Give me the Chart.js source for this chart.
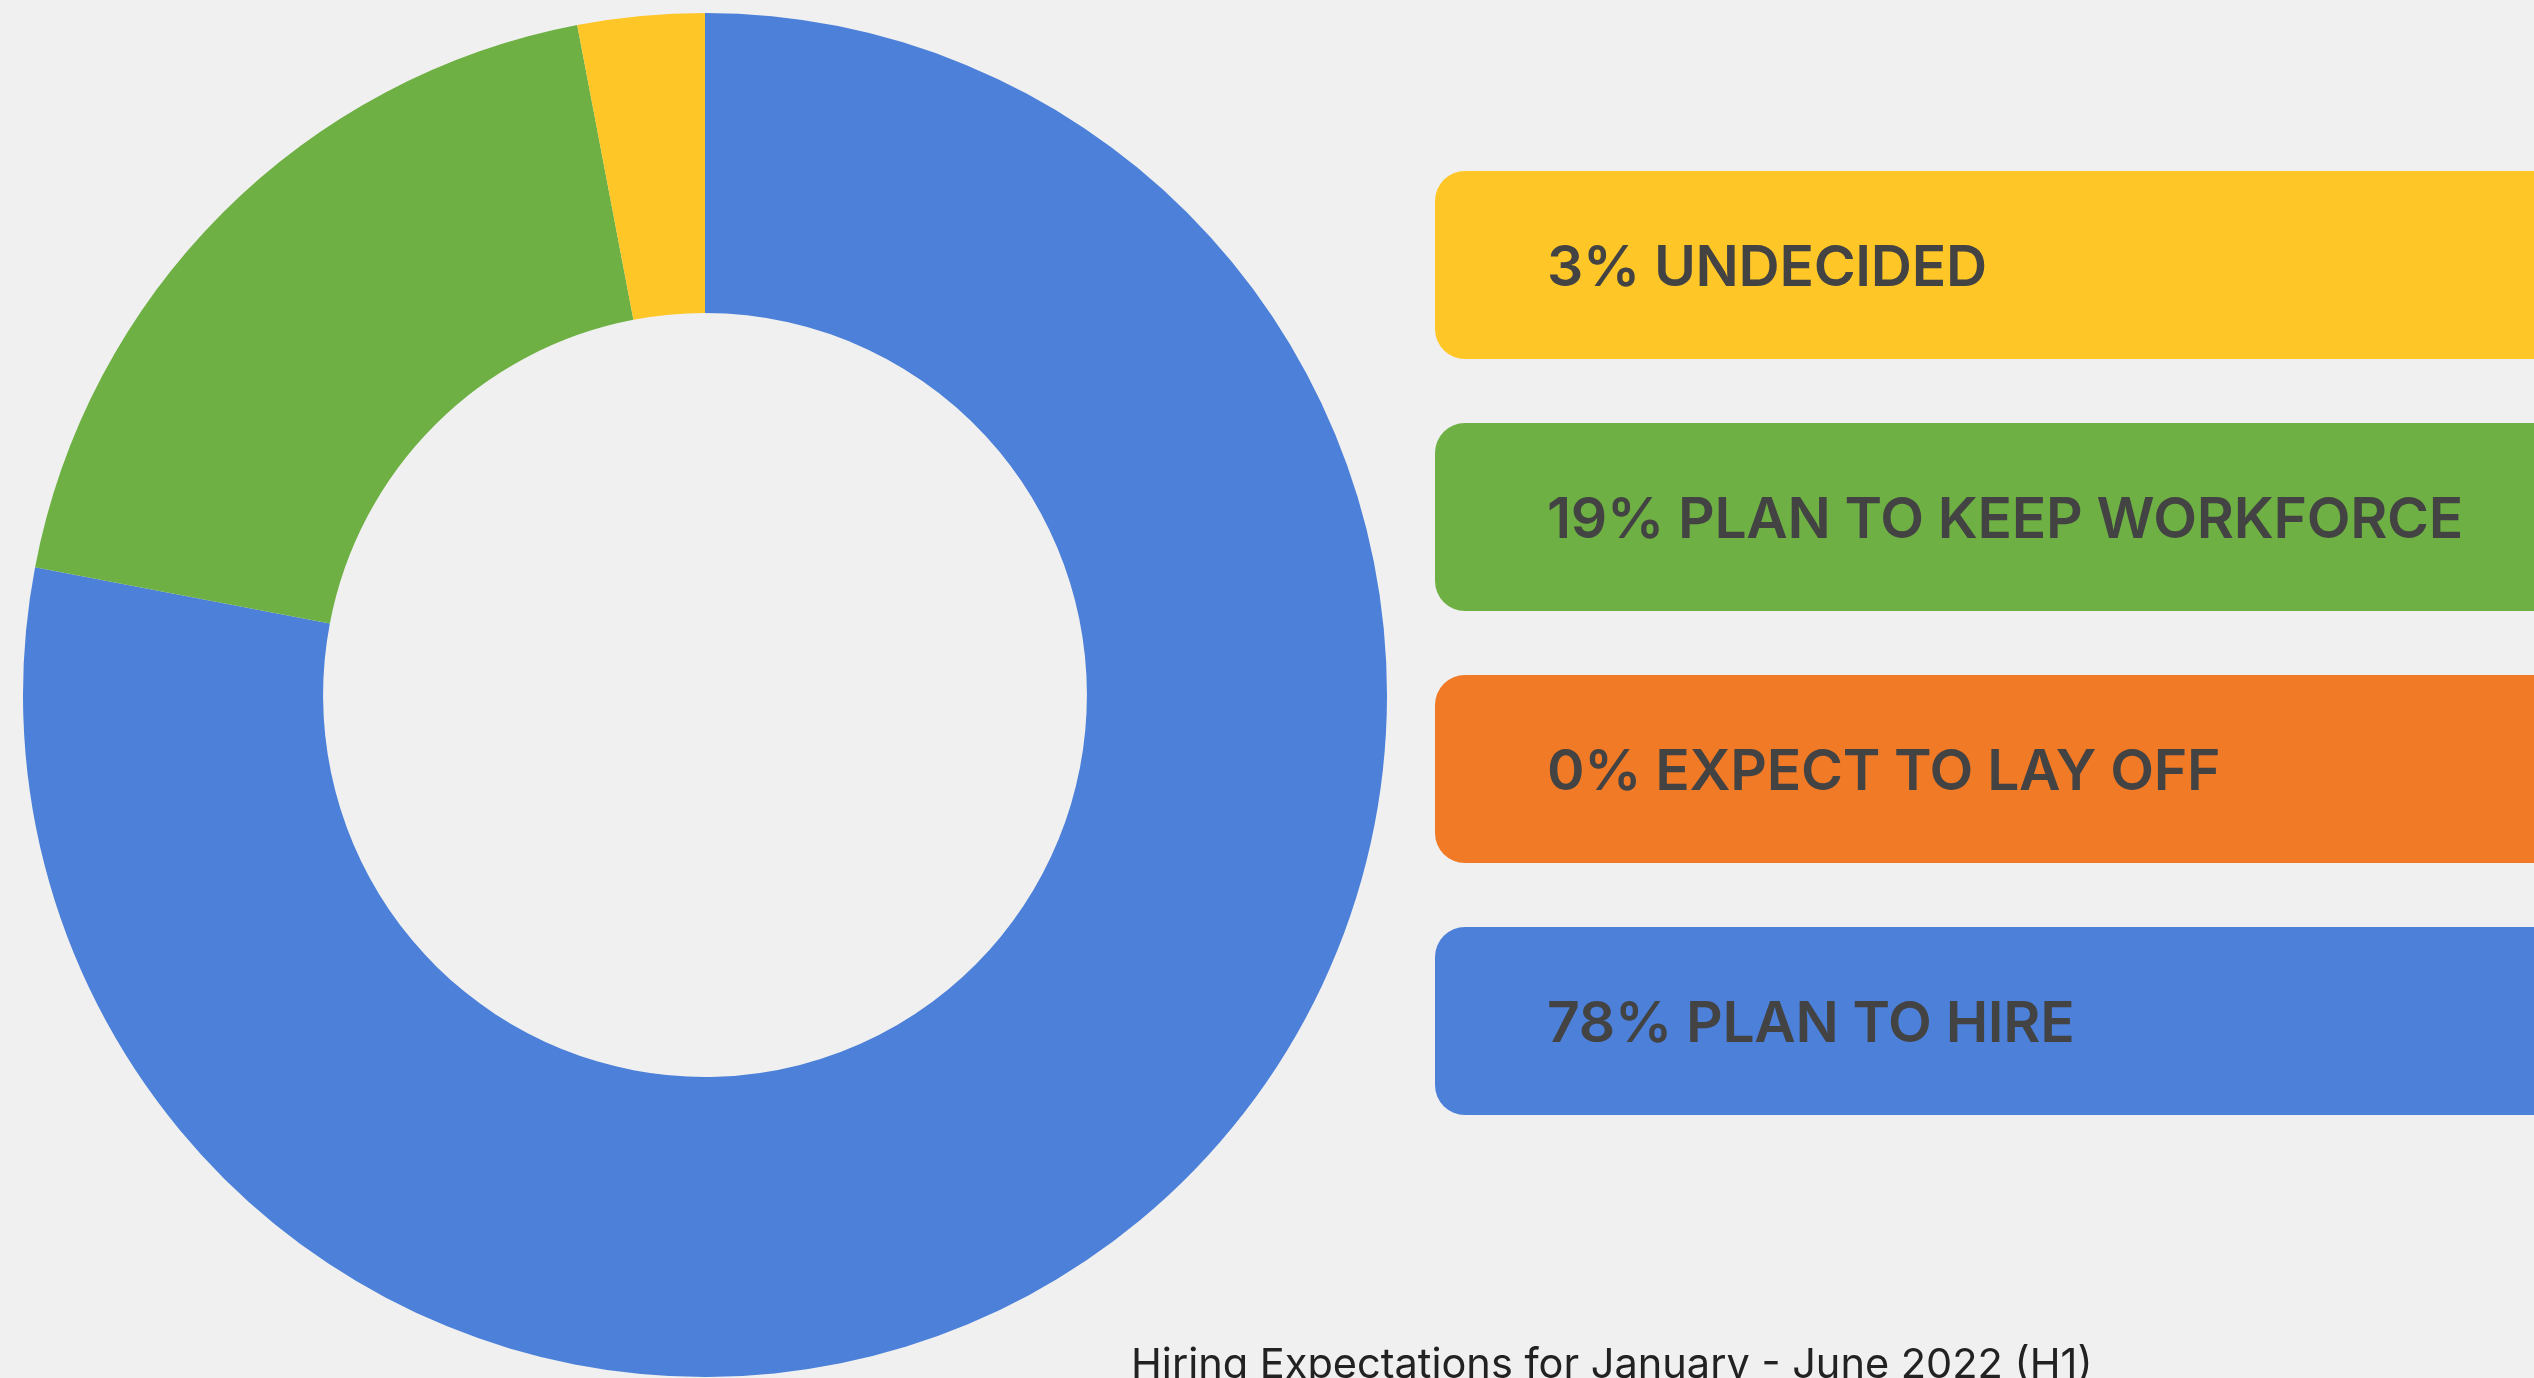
<!DOCTYPE html>
<html>
<head>
<meta charset="utf-8">
<script src="https://cdn.jsdelivr.net/npm/chart.js@4/dist/chart.umd.min.js"></script>
<style>
  html, body { margin: 0; padding: 0; background: #f0f0f0; overflow: hidden; }
  body { width: 2534px; height: 1378px; position: relative; font-family: Inter, "Noto Sans", sans-serif; }
  #wrap { position: absolute; left: 0; top: 0; width: 1420px; height: 1378px; }
  #legend { position: absolute; left: 1435px; top: 171px; right: -40px; }
  .item {
    height: 188px; margin-bottom: 64px; border-radius: 30px;
    display: flex; align-items: center; padding-left: 112px;
    font-weight: 600; font-size: 57px; color: #434343; letter-spacing: -0.3px;
  }
  #caption {
    position: absolute; left: 1131px; top: 1343px;
    font-size: 41.5px; line-height: 41.5px; color: #222; white-space: nowrap;
  }
</style>
</head>
<body>
<div id="wrap"><canvas id="chart"></canvas></div>
<div id="legend"></div>
<div id="caption"></div>
<script>
// Hiring expectations survey, H1 2022
const categories = ['PLAN TO HIRE', 'EXPECT TO LAY OFF', 'PLAN TO KEEP WORKFORCE', 'UNDECIDED'];
const shares = [78, 0, 19, 3];
const colors = ['#4c80d9', '#f07a26', '#6eb043', '#fec627'];
const captionText = 'Hiring Expectations for January - June 2022 (H1)';

new Chart(document.getElementById('chart'), {
  type: 'doughnut',
  data: {
    labels: categories,
    datasets: [{
      data: shares,
      backgroundColor: colors,
      borderWidth: 0,
      hoverOffset: 0
    }]
  },
  options: {
    responsive: true,
    maintainAspectRatio: false,
    animation: false,
    cutout: '56%',
    layout: { padding: { left: 23, top: 13, right: 33, bottom: 1 } },
    plugins: {
      legend: { display: false },
      tooltip: { enabled: false }
    }
  }
});

// Coloured label bars, listed from the last slice to the first
const legend = document.getElementById('legend');
for (let i = categories.length - 1; i >= 0; i--) {
  const el = document.createElement('div');
  el.className = 'item';
  el.style.background = colors[i];
  el.textContent = shares[i] + '% ' + categories[i];
  legend.appendChild(el);
}
document.getElementById('caption').textContent = captionText;
</script>
</body>
</html>
